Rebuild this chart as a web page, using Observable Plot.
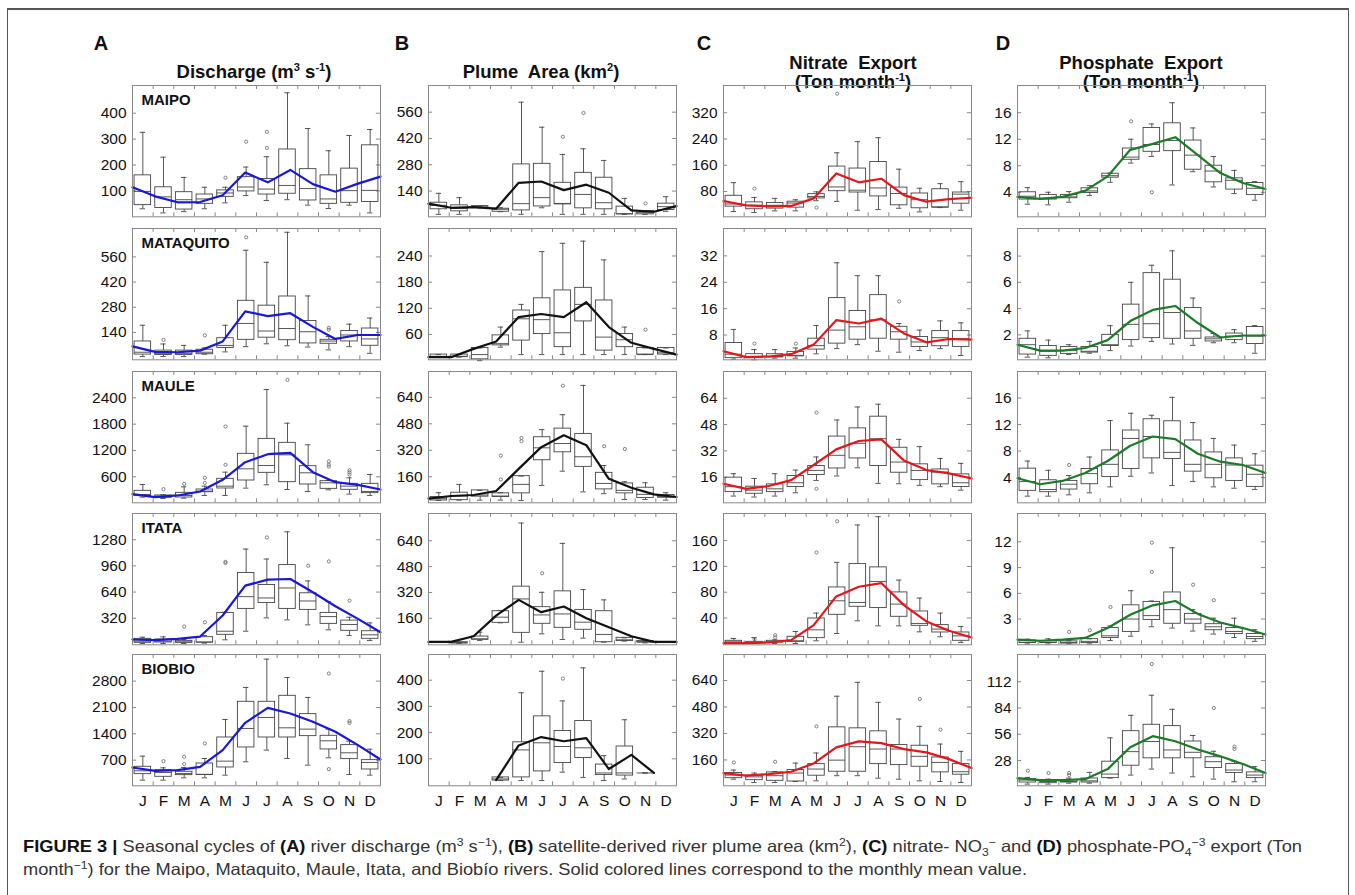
<!DOCTYPE html>
<html><head><meta charset="utf-8">
<script src="https://cdn.jsdelivr.net/npm/d3@7"></script>
<script src="https://cdn.jsdelivr.net/npm/@observablehq/plot@0.6"></script>
<style>
body{margin:0;background:#fff;width:1355px;height:895px;overflow:hidden;position:relative;font-family:"Liberation Sans",Arial,sans-serif;color:#111;}
#frame{position:absolute;left:7px;top:8px;width:1340px;height:900px;border-left:1px solid #555;border-right:1px solid #555;border-top:2px solid #555;}
.panel{position:absolute;}
.letter{position:absolute;font-weight:bold;font-size:20px;transform:translate(-50%,-50%);}
.title{position:absolute;font-weight:bold;font-size:18.5px;line-height:19px;text-align:center;transform:translateX(-50%);white-space:nowrap;font-family:"Liberation Sans Narrow","Arial Narrow","Liberation Sans",Arial,sans-serif;}
.title sup{font-size:60%;vertical-align:super;line-height:0;}
</style></head><body>
<div id="frame"></div>
<div class="letter" style="left:101px;top:43px">A</div>
<div class="letter" style="left:402px;top:43px">B</div>
<div class="letter" style="left:704px;top:43px">C</div>
<div class="letter" style="left:1003px;top:43px">D</div>
<div class="title" style="left:254px;top:62px">Discharge (m<sup>3</sup> s<sup>-1</sup>)</div>
<div class="title" style="left:541px;top:62px">Plume&nbsp; Area (km<sup>2</sup>)</div>
<div class="title" style="left:853px;top:53px">Nitrate&nbsp; Export<br>(Ton month<sup>-1</sup>)</div>
<div class="title" style="left:1141px;top:53px">Phosphate&nbsp; Export<br>(Ton month<sup>-1</sup>)</div>
<div id="panels"></div>
<svg id="cap" width="1355" height="60" style="position:absolute;left:0;top:830px" font-family="Liberation Sans Narrow, Arial Narrow, Liberation Sans, Arial, sans-serif">
<text x="23" y="22" font-size="16.5" fill="#333" textLength="1279" lengthAdjust="spacingAndGlyphs"><tspan font-weight="bold" fill="#111">FIGURE 3 | </tspan>Seasonal cycles of <tspan font-weight="bold" fill="#111">(A)</tspan> river discharge (m<tspan dy="-6" font-size="11">3</tspan><tspan dy="6"> s</tspan><tspan dy="-6" font-size="11">−1</tspan><tspan dy="6">), </tspan><tspan font-weight="bold" fill="#111">(B)</tspan> satellite-derived river plume area (km<tspan dy="-6" font-size="11">2</tspan><tspan dy="6">), </tspan><tspan font-weight="bold" fill="#111">(C)</tspan> nitrate- NO<tspan dy="4" font-size="11">3</tspan><tspan dy="-10" font-size="11">−</tspan><tspan dy="6"> and </tspan><tspan font-weight="bold" fill="#111">(D)</tspan> phosphate-PO<tspan dy="4" font-size="11">4</tspan><tspan dy="-10" font-size="11">−3</tspan><tspan dy="6"> export (Ton</tspan></text>
<text x="23" y="45" font-size="16.5" fill="#333" textLength="1004" lengthAdjust="spacingAndGlyphs">month<tspan dy="-6" font-size="11">−1</tspan><tspan dy="6">) for the Maipo, Mataquito, Maule, Itata, and Biobío rivers. Solid colored lines correspond to the monthly mean value.</tspan></text>
</svg>
<script>
// ---------- labels ----------
const months = ["J","F","M","A","M","J","J","A","S","O","N","D"];
const rivers = ["MAIPO","MATAQUITO","MAULE","ITATA","BIOBIO"];

// ---------- (A) Discharge: box stats per month [low whisker, Q1, median, Q3, high whisker] ----------
const dischargeMaipoBox = [[31,45,98,160,326],[15,34,77,114,230],[20,28,66,95,152],[31,50,69,86,114],[54,77,92,102,114],[82,98,115,153,192],[63,86,107,146,232],[66,89,121,260,479],[45,63,109,184,341],[32,50,69,160,255],[45,54,101,186,314],[15,57,102,276,337]];
const dischargeMaipoMean = [114,79,56,57,83,171,133,181,126,97,128,155];
const dischargeMaipoOut = [[5,151],[6,290],[7,266],[7,328]];
const dischargeMataquitoBox = [[6,17,30,90,180],[6,15,24,39,76],[6,15,24,39,68],[19,19,30,44,54],[32,54,68,108,180],[61,99,190,316,597],[77,111,148,289,530],[66,97,162,340,697],[59,79,144,204,343],[43,77,92,99,117],[61,90,126,148,186],[24,66,104,162,220]];
const dischargeMataquitoMean = [63,32,30,39,90,257,231,247,171,104,126,126];
const dischargeMataquitoOut = [[2,99],[4,124],[6,669],[10,166],[10,155]];
const dischargeMauleBox = [[137,160,197,281,425],[106,121,160,175,190],[114,129,175,235,372],[175,250,273,311,387],[175,334,387,554,706],[342,516,782,1124,1754],[418,691,858,1465,2589],[311,478,1101,1374,1822],[266,425,691,843,1329],[304,326,463,501,520],[205,304,387,440,577],[175,228,266,440,653]];
const dischargeMauleMean = [205,137,175,266,531,934,1116,1147,706,478,418,311];
const dischargeMauleOut = [[2,319],[3,440],[4,577],[4,463],[5,1746],[5,873],[8,2809],[10,950],[10,880],[10,835],[11,750],[11,700],[11,650]];
const dischargeItataBox = [[11,19,39,68,88],[11,23,39,60,92],[11,19,31,43,60],[15,23,27,88,109],[56,117,161,385,393],[161,434,584,873,1166],[324,507,568,727,1044],[300,434,690,970,1377],[239,422,531,625,776],[178,251,340,385,523],[109,166,243,291,332],[48,68,117,161,263]];
const dischargeItataMean = [60,52,68,96,353,719,792,800,637,466,312,149];
const dischargeItataOut = [[3,218],[4,271],[5,1010],[5,995],[7,1308],[9,962],[10,1015],[11,535]];
const dischargeBiobioBox = [[168,328,416,523,806],[168,257,372,434,496],[230,301,346,390,505],[230,310,319,611,744],[301,505,673,1302,1781],[656,1037,1542,2251,2632],[966,1302,1834,2251,3385],[744,1302,1559,2410,2897],[567,1338,1524,1923,2366],[762,984,1214,1347,1524],[319,727,895,1099,1205],[301,452,638,700,992]];
const dischargeBiobioMean = [505,416,434,523,966,1692,2091,1940,1719,1453,1099,718];
const dischargeBiobioOut = [[2,673],[3,789],[3,594],[4,1143],[10,3004],[10,461],[11,1740],[11,1690]];
const dischargeTicks = [[100,200,300,400],[140,280,420,560],[600,1200,1800,2400],[320,640,960,1280],[700,1400,2100,2800]];

// ---------- (B) Plume area ----------
const plumeMaipoBox = [[16,43,64,78,128],[16,32,48,64,105],[50,51,55,60,60],[30,30,43,46,51],[16,37,73,282,613],[51,58,105,285,480],[16,69,74,184,335],[16,48,122,237,365],[16,43,78,211,303],[16,16,19,57,101],[16,16,25,34,34],[32,39,57,73,110]];
const plumeMaipoMean = [73,51,55,46,184,191,145,174,131,37,30,60];
const plumeMaipoOut = [[7,429],[8,556],[11,74]];
const plumeMataquitoBox = [[8,8,10,14,14],[8,8,10,14,14],[0,3,14,29,29],[31,35,39,58,77],[14,46,96,115,129],[14,61,94,143,250],[14,31,64,161,269],[14,90,129,167,274],[14,23,54,138,231],[14,31,48,61,77],[14,14,14,29,29],[14,14,18,29,29]];
const plumeMataquitoMean = [8,8,27,44,100,107,100,134,77,41,27,14];
const plumeMataquitoOut = [[11,71]];
const plumeMauleBox = [[17,17,28,38,64],[19,19,44,64,114],[19,40,50,78,78],[19,38,44,60,64],[17,60,114,164,164],[108,260,335,399,445],[194,308,361,451,535],[69,220,281,419,712],[58,84,120,184,228],[23,60,78,120,130],[23,32,54,94,124],[19,34,40,50,64]];
const plumeMauleMean = [28,44,50,74,208,339,411,351,148,94,54,38];
const plumeMauleOut = [[4,288],[4,144],[5,395],[5,375],[7,710],[9,345],[10,328]];
const plumeItataBox = [null,[5,5,8,12,12],[23,27,33,47,74],[132,132,167,204,208],[12,70,280,356,750],[64,126,181,229,321],[29,101,187,327,624],[37,89,136,212,338],[12,12,60,204,274],[19,19,27,39,39],[8,12,12,19,19],null];
const plumeItataMean = [14,14,49,177,274,198,233,161,105,49,14,14];
const plumeItataOut = [[6,439]];
const plumeBiobioBox = [null,null,null,[17,17,23,29,29],[17,29,134,163,352],[17,52,161,262,434],[49,84,147,206,321],[29,103,142,244,447],[17,38,46,78,112],[23,36,46,147,249],[46,46,46,46,46],null];
const plumeBiobioMean = [null,null,null,19,151,183,167,179,61,115,46,null];
const plumeBiobioOut = [[7,406]];
const plumeTicks = [[140,280,420,560],[60,120,180,240],[160,320,480,640],[160,320,480,640],[100,200,300,400]];

// ---------- (C) Nitrate export ----------
const nitrateMaipoBox = [[19,34,42,67,107],[16,26,38,47,62],[21,28,38,45,59],[21,31,45,49,55],[52,59,65,72,79],[50,81,94,156,198],[23,77,84,150,232],[25,65,91,170,244],[29,38,74,92,148],[18,29,55,74,90],[31,31,33,87,104],[23,43,72,77,110]];
const nitrateMaipoMean = [51,38,35,36,59,135,108,119,69,49,57,61];
const nitrateMaipoOut = [[2,89],[5,31],[6,378]];
const nitrateMataquitoBox = [[0.7,1.0,2.2,5.6,9.7],[0.5,1.0,1.5,2.2,3.6],[1.0,1.2,1.5,2.2,3.6],[1.0,1.7,1.7,2.9,4.1],[2.3,3.6,4.8,6.9,10.9],[3.9,5.4,9.5,19.2,29.9],[5.1,6.6,10.5,15.3,26.0],[3.1,6.9,12.6,20.1,26.0],[2.8,6.6,9.0,10.5,11.5],[3.3,4.4,5.9,7.4,9.5],[3.9,4.6,7.2,9.2,12.3],[1.8,4.4,6.9,9.2,11.7]];
const nitrateMataquitoMean = [3.1,1.3,1.5,2.2,5.1,12.5,11.5,13.0,8.5,5.8,6.8,6.6];
const nitrateMataquitoOut = [[2,5.4],[4,5.4],[9,18.2]];
const nitrateMauleBox = [[4.5,6.9,10.2,15.7,18.1],[3.9,5.9,8.1,10.2,15.2],[4.5,6.9,8.9,11.6,18.1],[6.5,10.0,12.6,16.7,20.3],[14.0,17.3,20.1,22.8,28.3],[16.7,21.3,29.3,40.7,50.8],[21.7,27.4,36.6,45.7,58.7],[12.2,22.8,39.4,52.8,60.4],[12.0,18.7,25.2,33.9,39.0],[11.0,14.2,20.1,23.8,34.6],[10.2,11.6,19.1,20.7,27.4],[8.1,10.0,12.6,17.7,24.4]];
const nitrateMauleMean = [12.0,8.9,10.6,14.2,23.4,32.9,38.0,39.0,26.2,20.3,18.3,15.2];
const nitrateMauleOut = [[5,55.3],[5,8.9]];
const nitrateItataBox = [[0.5,0.5,3.1,4.7,8.3],[0.5,1.0,2.1,3.1,9.8],[0.5,2.1,3.1,4.7,6.2],[0.5,3.1,4.7,10.9,19.1],[4.7,8.8,21.7,39.3,47.6],[16.0,45.0,66.7,87.4,126.2],[35.7,57.4,64.1,123.6,184.2],[27.9,55.4,96.7,118.5,197.1],[27.9,41.9,61.6,79.7,98.8],[18.6,27.9,31.6,50.2,70.9],[10.9,17.6,22.8,29.0,47.6],[2.1,4.7,12.4,17.6,26.9]];
const nitrateItataMean = [1.0,1.0,2.1,5.7,29.0,73.5,88.5,94.2,60.0,34.7,20.2,9.8];
const nitrateItataOut = [[2,7.2],[3,13.4],[3,9.8],[5,141.7],[6,189.9]];
const nitrateBiobioBox = [[44,50,69,81,99],[24,38,58,65,81],[24,34,65,85,89],[30,30,81,99,141],[34,65,105,135,202],[65,89,159,357,545],[65,89,240,351,629],[50,135,226,333,508],[44,129,226,250,407],[34,119,182,246,363],[30,85,145,175,256],[24,71,89,135,212]];
const nitrateBiobioMean = [81,65,75,89,139,236,272,262,226,206,165,111];
const nitrateBiobioOut = [[1,145],[3,149],[5,363],[10,528],[11,343]];
const nitrateTicks = [[80,160,240,320],[8,16,24,32],[16,32,48,64],[40,80,120,160],[160,320,480,640]];

// ---------- (D) Phosphate export ----------
const phosphateMaipoBox = [[2.2,2.9,3.4,4.0,4.7],[2.1,2.9,3.1,3.6,4.0],[2.5,3.1,3.3,3.6,4.1],[3.5,3.9,4.2,4.6,5.0],[5.5,6.2,6.5,6.8,6.9],[8.4,8.9,9.3,10.6,12.0],[9.4,10.1,11.2,13.7,14.3],[5.1,10.2,11.8,14.4,17.5],[7.1,7.4,9.6,11.8,13.7],[4.8,5.5,7.2,8.0,9.4],[3.8,4.4,5.8,6.1,7.3],[2.8,3.6,4.6,5.4,5.6]];
const phosphateMaipoMean = [3.3,3.0,3.3,4.2,6.4,10.4,11.3,12.3,9.6,6.9,5.4,4.5];
const phosphateMaipoOut = [[6,14.7],[7,4.0]];
const phosphateMataquitoBox = [[0.3,0.5,1.25,1.7,2.3],[0.25,0.4,0.75,1.15,1.6],[0.5,0.55,0.8,1.07,1.25],[0.6,0.65,0.75,1.07,1.5],[0.8,1.15,1.25,2.0,2.7],[1.15,1.6,2.8,4.3,6.0],[1.5,1.75,2.85,6.7,7.3],[1.3,1.7,3.7,6.2,8.4],[1.2,1.7,2.3,4.05,4.8],[1.4,1.5,1.7,1.8,2.1],[1.4,1.6,1.9,2.1,2.4],[0.6,1.3,1.9,2.6,2.7]];
const phosphateMataquitoMean = [1.25,0.8,0.8,1.0,1.6,3.05,3.9,4.2,2.9,1.8,1.95,1.95];
const phosphateMataquitoOut = [];
const phosphateMauleBox = [[1.2,2.0,3.4,5.35,6.5],[1.2,1.8,2.2,3.6,5.1],[1.4,2.2,3.0,3.5,4.3],[1.7,3.0,4.6,5.3,7.1],[2.6,4.1,6.0,8.1,12.6],[4.2,5.3,9.9,11.1,13.7],[4.7,6.9,10.2,12.8,13.4],[2.8,6.8,7.8,12.5,16.1],[3.4,4.9,6.0,9.6,12.3],[2.6,3.9,6.0,7.8,9.9],[2.4,3.5,5.9,6.9,8.9],[2.2,2.6,4.5,5.8,7.6]];
const phosphateMauleMean = [3.9,3.0,3.5,4.7,6.5,8.8,10.2,9.8,7.6,6.4,5.9,4.7];
const phosphateMauleOut = [[3,5.9]];
const phosphateItataBox = [[0.1,0.2,0.3,0.5,0.66],[0.1,0.2,0.27,0.4,0.7],[0.1,0.15,0.27,0.4,0.47],[0.1,0.2,0.4,0.66,0.7],[0.5,0.8,1.05,1.95,2.2],[1.0,1.5,3.0,4.6,6.3],[2.1,2.9,3.4,5.0,5.1],[1.95,2.45,4.1,6.1,11.3],[1.6,2.45,3.0,3.6,4.1],[1.25,1.7,2.1,2.4,3.1],[0.85,1.25,1.55,1.95,3.1],[0.4,0.66,0.97,1.25,1.75]];
const phosphateItataMean = [0.6,0.47,0.6,0.8,1.95,3.5,4.6,5.1,3.6,2.6,1.95,1.2];
const phosphateItataOut = [[3,1.5],[4,1.7],[5,4.4],[7,11.9],[7,8.5],[9,7.0],[10,5.2]];
const phosphateBiobioBox = [[2.9,4.6,7.2,8.2,10.0],[2.9,3.9,5.7,7.2,8.2],[3.9,4.6,5.7,7.2,9.3],[3.9,4.6,6.4,8.9,15.4],[9.3,9.3,13.6,26.8,52.2],[12.5,22.5,37.5,59.3,76.2],[18.9,30.4,48.3,66.1,97.6],[14.7,30.4,39.3,64.7,82.6],[10.7,30.4,36.8,48.3,54.7],[8.2,20.0,26.8,31.5,37.9],[5.4,14.7,17.9,24.3,27.2],[5.4,9.3,12.5,15.4,21.5]];
const phosphateBiobioMean = [9.3,7.2,7.2,8.2,18.9,42.2,54.0,48.6,39.7,32.5,24.3,14.7];
const phosphateBiobioOut = [[1,17.2],[2,14.7],[3,14.7],[3,12.5],[7,130.9],[10,84.0],[11,42.9],[11,40.4]];
const phosphateTicks = [[4,8,12,16],[2,4,6,8],[4,8,12,16],[3,6,9,12],[28,56,84,112]];

// ---------- assemble ----------
const columns = [
  {ticks: dischargeTicks, color: "#1818d6",
   box: [dischargeMaipoBox, dischargeMataquitoBox, dischargeMauleBox, dischargeItataBox, dischargeBiobioBox],
   mean: [dischargeMaipoMean, dischargeMataquitoMean, dischargeMauleMean, dischargeItataMean, dischargeBiobioMean],
   out: [dischargeMaipoOut, dischargeMataquitoOut, dischargeMauleOut, dischargeItataOut, dischargeBiobioOut],
   domain: [[0,507],[-12,718],[8,3000],[-5,1601],[18,3508]]},
  {ticks: plumeTicks, color: "#111111",
   box: [plumeMaipoBox, plumeMataquitoBox, plumeMauleBox, plumeItataBox, plumeBiobioBox],
   mean: [plumeMaipoMean, plumeMataquitoMean, plumeMauleMean, plumeItataMean, plumeBiobioMean],
   out: [plumeMaipoOut, plumeMataquitoOut, plumeMauleOut, plumeItataOut, plumeBiobioOut],
   domain: [[3,702],[2,303],[3,796],[-4,809],[-3,498]]},
  {ticks: nitrateTicks, color: "#e4161b",
   box: [nitrateMaipoBox, nitrateMataquitoBox, nitrateMauleBox, nitrateItataBox, nitrateBiobioBox],
   mean: [nitrateMaipoMean, nitrateMataquitoMean, nitrateMauleMean, nitrateItataMean, nitrateBiobioMean],
   out: [nitrateMaipoOut, nitrateMataquitoOut, nitrateMauleOut, nitrateItataOut, nitrateBiobioOut],
   domain: [[3,403],[0.5,40.3],[0.4,80.3],[-1.5,202],[4,797]]},
  {ticks: phosphateTicks, color: "#1c7a28",
   box: [phosphateMaipoBox, phosphateMataquitoBox, phosphateMauleBox, phosphateItataBox, phosphateBiobioBox],
   mean: [phosphateMaipoMean, phosphateMataquitoMean, phosphateMauleMean, phosphateItataMean, phosphateBiobioMean],
   out: [phosphateMaipoOut, phosphateMataquitoOut, phosphateMauleOut, phosphateItataOut, phosphateBiobioOut],
   domain: [[0.3,20.1],[0.1,10.1],[0.2,20.0],[0,15.3],[1.1,141]]}
];

const colX = [131.7, 428.3, 723.3, 1016.7];
const rowY = [85, 227.7, 371, 512.7, 654.3];
const PW = 248, PH = 131.3;
const FONT = "Liberation Sans, Arial, sans-serif";
const holder = document.getElementById("panels");

function panel(c, r) {
  const col = columns[c];
  const [d0, d1] = col.domain[r];
  const span = d1 - d0;
  const ticks = col.ticks[r];
  const rows = col.box[r].map((s, i) => s ? {m: i + 1, lo: s[0], q1: s[1], med: s[2], q3: s[3], hi: s[4]} : null).filter(d => d);
  const meanRows = col.mean[r].map((v, i) => ({x: 0.5 + i * 12 / 11, v})).filter(d => d.v != null);
  const outs = col.out[r].map(([m, v]) => ({m, v}));
  const bottom = r === 4;
  const mL = 52, mR = 4, mT = 4, mB = bottom ? 30 : 4;
  const bounds = d3.range(1.5, 12, 1);
  const marks = [
    Plot.ruleY(ticks, {y: d => d, x1: () => 0.5, x2: () => 0.7, stroke: "#888"}),
    Plot.ruleY(ticks, {y: d => d, x1: () => 12.3, x2: () => 12.5, stroke: "#888"}),
    Plot.ruleX(bounds, {x: d => d, y1: () => d0, y2: () => d0 + span * 0.03, stroke: "#888"}),
    Plot.ruleX(bounds, {x: d => d, y1: () => d1, y2: () => d1 - span * 0.03, stroke: "#888"}),
    Plot.ruleX(rows, {x: "m", y1: "q3", y2: "hi", stroke: "#444", strokeWidth: 0.9}),
    Plot.ruleX(rows, {x: "m", y1: "lo", y2: "q1", stroke: "#444", strokeWidth: 0.9}),
    Plot.ruleY(rows, {y: "hi", x1: d => d.m - 0.13, x2: d => d.m + 0.13, stroke: "#444", strokeWidth: 0.9}),
    Plot.ruleY(rows, {y: "lo", x1: d => d.m - 0.13, x2: d => d.m + 0.13, stroke: "#444", strokeWidth: 0.9}),
    Plot.rect(rows, {x1: d => d.m - 0.4, x2: d => d.m + 0.4, y1: "q1", y2: "q3", fill: "none", stroke: "#444", strokeWidth: 0.9}),
    Plot.ruleY(rows, {y: "med", x1: d => d.m - 0.4, x2: d => d.m + 0.4, stroke: "#444", strokeWidth: 0.9}),
    Plot.dot(outs, {x: "m", y: "v", r: 1.6, stroke: "#666", strokeWidth: 0.8, fill: "none"}),
    Plot.line(meanRows, {x: "x", y: "v", stroke: col.color, strokeWidth: 2.2}),
    Plot.frame({stroke: "#888"}),
    Plot.text(ticks, {x: () => 0.5, y: d => d, text: d => String(d), textAnchor: "end", dx: -6, fontSize: 15.5, fill: "#111"})
  ];
  if (c === 0) {
    marks.push(Plot.text([rivers[r]], {x: () => 0.5, y: () => d1, text: d => d, textAnchor: "start", dx: 9, dy: 15, fontSize: 15, fontWeight: "bold", fill: "#111"}));
  }
  if (bottom) {
    marks.push(Plot.text(months, {x: (d, i) => i + 1, y: () => d0, text: d => d, dy: 15, fontSize: 15.5, fill: "#111"}));
  }
  const W = PW + mL + mR, H = PH + mT + mB;
  const svg = Plot.plot({
    width: W, height: H,
    marginLeft: mL, marginRight: mR, marginTop: mT, marginBottom: mB,
    x: {domain: [0.5, 12.5], axis: null},
    y: {domain: [d0, d1], axis: null},
    style: {fontFamily: FONT, background: "transparent", overflow: "visible"},
    marks
  });
  const div = document.createElement("div");
  div.className = "panel";
  div.style.left = (colX[c] - mL) + "px";
  div.style.top = (rowY[r] - mT) + "px";
  div.style.width = W + "px";
  div.style.height = H + "px";
  div.appendChild(svg);
  holder.appendChild(div);
}

for (let c = 0; c < 4; c++) for (let r = 0; r < 5; r++) panel(c, r);
</script>
</body></html>
